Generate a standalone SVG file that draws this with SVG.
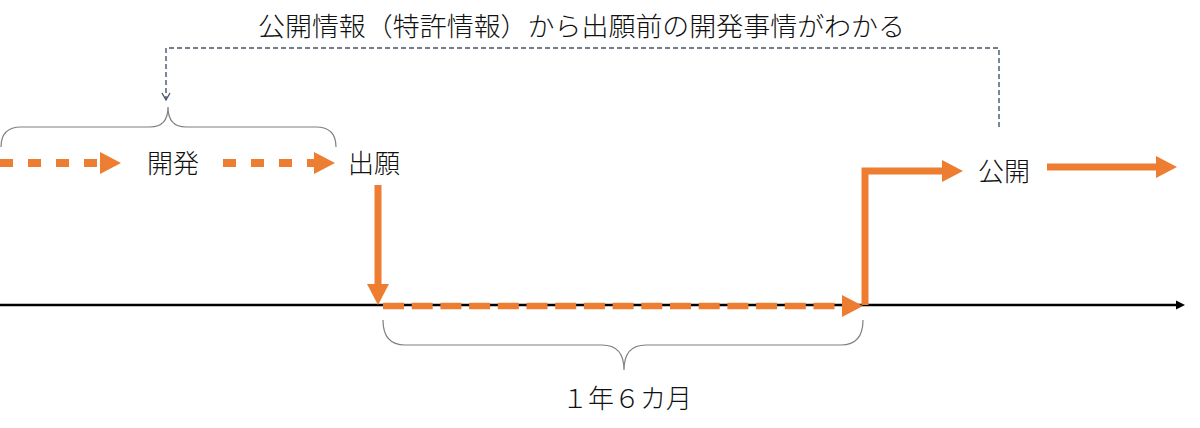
<svg xmlns="http://www.w3.org/2000/svg" width="1200" height="428" viewBox="0 0 1200 428">
  <style>
    .lbl { font-family: "Noto Sans CJK JP", "Noto Sans", sans-serif; font-size: 26px; font-weight: 300; fill: #111; }
    .or { stroke: #ED7D31; fill: none; }
    .dash1 { stroke-width: 8; stroke-dasharray: 13 15; }
    .dash2 { stroke-width: 6.5; stroke-dasharray: 21 7.7; }
    .solid { stroke-width: 7; }
    .brace { stroke: #7F7F7F; stroke-width: 1.2; fill: none; }
    .info { stroke: #44546A; stroke-width: 1.4; fill: none; stroke-dasharray: 5 3; }
    .axis { stroke: #000; stroke-width: 2.5; fill: none; }
  </style>
  <defs>
    <marker id="oh" markerUnits="userSpaceOnUse" markerWidth="22" markerHeight="22" refX="0" refY="11" orient="auto" overflow="visible">
      <path d="M0,0 L21,11 L0,22 Z" fill="#ED7D31"/>
    </marker>
    <marker id="ax" markerUnits="userSpaceOnUse" markerWidth="10" markerHeight="10" refX="0" refY="5" orient="auto" overflow="visible">
      <path d="M0,0.5 L9,5 L0,9.5 Z" fill="#000"/>
    </marker>
    <marker id="openv" markerUnits="userSpaceOnUse" markerWidth="10" markerHeight="10" refX="5" refY="8" orient="0" overflow="visible">
      <path d="M1,1 L5,8 L9,1" fill="none" stroke="#44546A" stroke-width="1.3"/>
    </marker>
  </defs>

  <g id="connectors">
    <path class="axis" d="M0,305 L1176,305" marker-end="url(#ax)"/>
    <path class="or dash1" d="M0,163 L100,163" marker-end="url(#oh)"/>
    <path class="or dash1" d="M223,163 L314,163" marker-end="url(#oh)"/>
    <path class="or solid" d="M378,185 L378,284" marker-end="url(#oh)"/>
    <path class="or dash2" d="M383,306 L842,306" marker-end="url(#oh)"/>
    <path class="or solid" d="M865,305 L865,171 L942,171" marker-end="url(#oh)"/>
    <path class="or solid" d="M1047,167 L1156,167" marker-end="url(#oh)"/>
    <path class="info" d="M999,127 L999,48 L166,48 L166,100" marker-end="url(#openv)"/>
    <path class="brace" d="M1,147 Q1,127 21,127 L150,127 Q168,127 168,107 Q168,127 186,127 L316,127 Q336,127 336,147"/>
    <path class="brace" d="M383,320 Q383,345 405,345 L602,345 Q624,345 624,370 Q624,345 646,345 L841,345 Q863,345 863,320"/>
  </g>

  <g id="node-kaihatsu">
    <text class="lbl" x="147" y="173">開発</text>
  </g>
  <g id="node-shutsugan">
    <text class="lbl" x="348" y="173">出願</text>
  </g>
  <g id="node-kokai">
    <text class="lbl" x="978" y="181">公開</text>
  </g>
  <g id="label-info">
    <text class="lbl" x="258" y="36" textLength="647" lengthAdjust="spacingAndGlyphs">公開情報（特許情報）から出願前の開発事情がわかる</text>
  </g>
  <g id="label-duration">
    <text class="lbl" x="562" y="408" textLength="130" lengthAdjust="spacingAndGlyphs">１年６カ月</text>
  </g>
</svg>
